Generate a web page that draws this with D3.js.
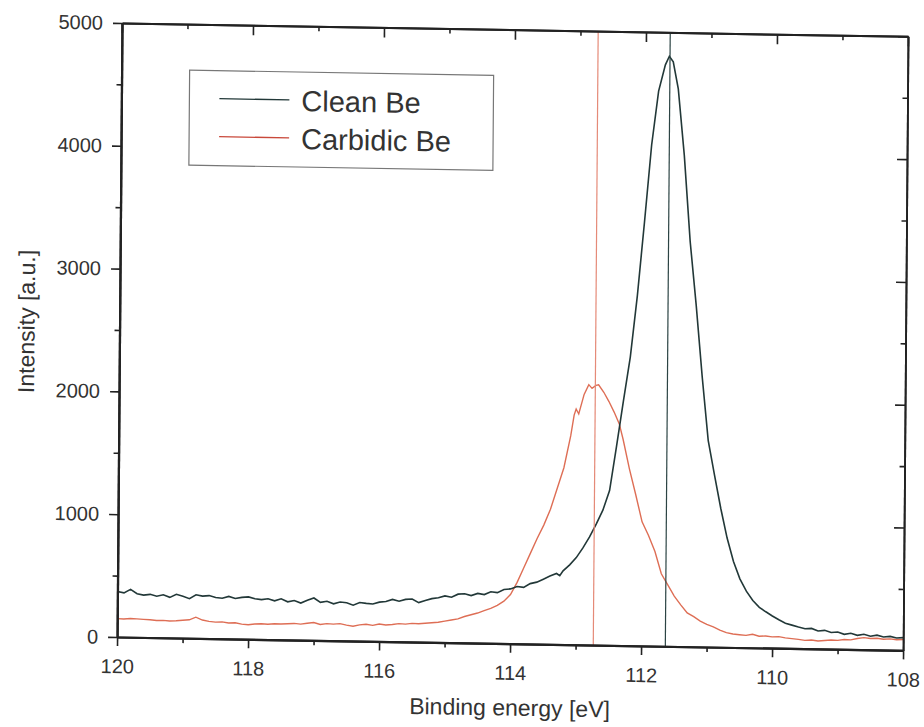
<!DOCTYPE html>
<html>
<head>
<meta charset="utf-8">
<script src="https://cdn.jsdelivr.net/npm/d3@7"></script>
<style>
  body { margin: 0; background: #fff; }
  svg { display: block; }
  text { font-family: "Liberation Sans", Arial, sans-serif; fill: #333; }
</style>
</head>
<body>
<div id="chart"></div>
<script>
// spectra: [binding energy eV, intensity a.u.]
var cleanBe = [
  [120.0,370],[119.9,360],[119.8,390],[119.7,355],[119.6,345],[119.5,352],[119.4,338],[119.3,350],
  [119.2,330],[119.1,356],[119.0,340],[118.9,322],[118.8,355],[118.7,345],[118.6,350],[118.5,335],
  [118.4,330],[118.3,346],[118.2,330],[118.1,340],[118.0,345],[117.9,330],[117.8,324],[117.7,332],
  [117.6,316],[117.5,334],[117.4,310],[117.3,322],[117.2,302],[117.1,326],[117.0,345],[116.9,310],
  [116.8,320],[116.7,300],[116.6,316],[116.5,310],[116.4,292],[116.3,314],[116.2,308],[116.1,304],
  [116.0,320],[115.9,326],[115.8,344],[115.7,330],[115.6,346],[115.5,350],[115.4,322],[115.3,340],
  [115.2,356],[115.1,364],[115.0,380],[114.9,370],[114.8,396],[114.7,400],[114.6,386],[114.5,405],
  [114.4,396],[114.3,420],[114.2,414],[114.1,440],[114.0,446],[113.9,466],[113.8,460],[113.7,492],
  [113.6,505],[113.5,530],[113.4,556],[113.3,578],[113.25,560],[113.2,600],[113.1,650],[113.0,710],
  [112.9,790],[112.8,880],[112.7,985],[112.6,1100],[112.5,1260],[112.4,1620],[112.3,1990],[112.2,2350],
  [112.1,2850],[112.0,3450],[111.9,4080],[111.8,4520],[111.7,4735],[111.64,4805],[111.58,4760],[111.5,4540],
  [111.4,4000],[111.3,3300],[111.2,2780],[111.1,2200],[111.0,1680],[110.9,1400],[110.8,1130],[110.7,890],
  [110.6,700],[110.5,560],[110.4,460],[110.3,385],[110.2,330],[110.1,295],[110.0,262],[109.9,232],
  [109.8,205],[109.7,190],[109.6,175],[109.5,162],[109.4,166],[109.3,146],[109.2,152],[109.1,136],
  [109.0,140],[108.9,122],[108.8,132],[108.7,116],[108.6,126],[108.5,110],[108.4,120],[108.3,106],
  [108.2,112],[108.1,100],[108.0,104]
];

var carbidicBe = [
  [120.0,150],[119.9,148],[119.8,152],[119.7,150],[119.6,147],[119.5,145],[119.4,140],[119.3,142],
  [119.2,138],[119.1,140],[119.0,145],[118.9,150],[118.8,172],[118.7,150],[118.6,140],[118.5,135],
  [118.4,138],[118.3,130],[118.2,132],[118.1,122],[118.0,118],[117.9,125],[117.8,128],[117.7,125],
  [117.6,130],[117.5,128],[117.4,132],[117.3,135],[117.2,130],[117.1,138],[117.0,145],[116.9,130],
  [116.8,138],[116.7,135],[116.6,140],[116.5,128],[116.4,120],[116.3,132],[116.2,138],[116.1,130],
  [116.0,142],[115.9,135],[115.8,140],[115.7,148],[115.6,145],[115.5,152],[115.4,150],[115.3,155],
  [115.2,160],[115.1,165],[115.0,175],[114.9,185],[114.8,195],[114.7,215],[114.6,230],[114.5,245],
  [114.4,265],[114.3,285],[114.2,310],[114.1,345],[114.0,400],[113.9,500],[113.8,620],[113.7,740],
  [113.6,860],[113.5,970],[113.4,1100],[113.3,1270],[113.2,1440],[113.1,1700],[113.05,1870],[113.02,1920],
  [112.98,1880],[112.9,2040],[112.83,2120],[112.78,2090],[112.72,2115],[112.68,2120],[112.6,2060],[112.52,1985],
  [112.44,1900],[112.36,1805],[112.3,1680],[112.2,1440],[112.1,1230],[112.0,1010],[111.9,900],[111.8,770],
  [111.7,590],[111.6,500],[111.5,410],[111.4,340],[111.3,275],[111.2,245],[111.1,210],[111.0,185],
  [110.9,165],[110.8,140],[110.7,120],[110.6,110],[110.5,105],[110.4,100],[110.3,110],[110.2,95],
  [110.1,98],[110.0,92],[109.9,95],[109.8,85],[109.7,80],[109.6,75],[109.5,68],[109.4,72],
  [109.3,65],[109.2,70],[109.1,75],[109.0,72],[108.9,80],[108.8,78],[108.7,90],[108.6,98],
  [108.5,92],[108.4,95],[108.3,88],[108.2,92],[108.1,85],[108.0,88]
];

// peak markers
var peakMarks = [
  { e: 111.63, series: 'clean' },
  { e: 112.73, series: 'carbidic' }
];

var xMajor = [120, 118, 116, 114, 112, 110, 108];
var xMinor = [119, 117, 115, 113, 111, 109];
var yMajor = [0, 1000, 2000, 3000, 4000, 5000];
var yMinor = [500, 1500, 2500, 3500, 4500];
var legendNames = ['Clean Be', 'Carbidic Be'];

var lineCol = { clean: '#223838', carbidic: '#de6e55' };
var markCol = { clean: '#2c4444', carbidic: '#e58a78' };

var w = 924, h = 727;
var pw = 786, ph = 614;

var svg = d3.select('#chart').append('svg')
    .attr('width', w)
    .attr('height', h);

// the scan is slightly tilted, so the whole plot is sheared a little
var g = svg.append('g')
    .attr('transform', 'matrix(1,0.017,-0.008,1,122,23)');

var x = d3.scaleLinear().domain([120, 108]).range([0, pw]);
var y = d3.scaleLinear().domain([0, 5000]).range([ph, 0]);

// curves
var line = d3.line()
    .x(function(d) { return x(d[0]); })
    .y(function(d) { return y(d[1]); });

g.append('path')
    .datum(carbidicBe)
    .attr('d', line)
    .attr('fill', 'none')
    .attr('stroke', lineCol.carbidic)
    .attr('stroke-width', 1.4);

g.append('path')
    .datum(cleanBe)
    .attr('d', line)
    .attr('fill', 'none')
    .attr('stroke', lineCol.clean)
    .attr('stroke-width', 1.6);

g.selectAll('.mark')
    .data(peakMarks)
    .enter()
    .append('line')
    .attr('x1', function(d) { return x(d.e); })
    .attr('x2', function(d) { return x(d.e); })
    .attr('y1', y(5000))
    .attr('y2', y(0))
    .attr('stroke', function(d) { return markCol[d.series]; })
    .attr('stroke-width', 1.2);

// axes
var styleAxis = function(sel, sw) {
  sel.select('.domain').attr('stroke', '#222').attr('stroke-width', sw);
  sel.selectAll('.tick line').attr('stroke', '#222').attr('stroke-width', 1.6);
  sel.selectAll('text')
      .style('font-family', '"Liberation Sans", Arial, sans-serif')
      .style('font-size', '20px')
      .attr('fill', '#3a3a3a');
};

g.append('g')
    .attr('transform', 'translate(0,' + ph + ')')
    .call(d3.axisBottom(x).tickValues(xMajor).tickSize(9).tickSizeOuter(0).tickPadding(13).tickFormat(d3.format('d')))
    .call(styleAxis, 2.2);
g.append('g')
    .attr('transform', 'translate(0,' + ph + ')')
    .call(d3.axisBottom(x).tickValues(xMinor).tickSize(5).tickSizeOuter(0).tickFormat(''))
    .call(styleAxis, 2.2);

g.append('g')
    .call(d3.axisTop(x).tickValues(xMajor).tickSize(-10).tickSizeOuter(0).tickFormat(''))
    .call(styleAxis, 2);
g.append('g')
    .call(d3.axisTop(x).tickValues(xMinor).tickSize(-5).tickSizeOuter(0).tickFormat(''))
    .call(styleAxis, 2);

g.append('g')
    .call(d3.axisLeft(y).tickValues(yMajor).tickSize(9).tickSizeOuter(0).tickPadding(10).tickFormat(d3.format('d')))
    .call(styleAxis, 2.2);
g.append('g')
    .call(d3.axisLeft(y).tickValues(yMinor).tickSize(5).tickSizeOuter(0).tickFormat(''))
    .call(styleAxis, 2.2);

g.append('g')
    .attr('transform', 'translate(' + pw + ',0)')
    .call(d3.axisRight(y).tickValues(yMajor).tickSize(-10).tickSizeOuter(0).tickFormat(''))
    .call(styleAxis, 1.8);
g.append('g')
    .attr('transform', 'translate(' + pw + ',0)')
    .call(d3.axisRight(y).tickValues(yMinor).tickSize(-5).tickSizeOuter(0).tickFormat(''))
    .call(styleAxis, 1.8);

// axis titles
g.append('text')
    .attr('x', 393)
    .attr('y', 686)
    .attr('text-anchor', 'middle')
    .style('font-size', '23px')
    .text('Binding energy [eV]');

g.append('text')
    .attr('transform', 'translate(-85,' + 300 + ') rotate(-90)')
    .attr('text-anchor', 'middle')
    .style('font-size', '23px')
    .text('Intensity [a.u.]');

// legend
var lg = g.append('g').attr('transform', 'translate(68,46)');
lg.append('rect')
    .attr('width', 304)
    .attr('height', 95)
    .attr('fill', '#fff')
    .attr('stroke', '#777')
    .attr('stroke-width', 1.2);

var items = lg.selectAll('.item')
    .data(legendNames)
    .enter()
    .append('g')
    .attr('transform', function(d, i) { return 'translate(0,' + (28 + i * 38) + ')'; });

items.append('line')
    .attr('x1', 30)
    .attr('x2', 100)
    .attr('stroke', function(d, i) { return i === 0 ? lineCol.clean : '#c9483a'; })
    .attr('stroke-width', 1.3);

items.append('text')
    .attr('x', 112)
    .attr('y', 11)
    .style('font-size', '29px')
    .text(function(d) { return d; });
</script>
</body>
</html>
